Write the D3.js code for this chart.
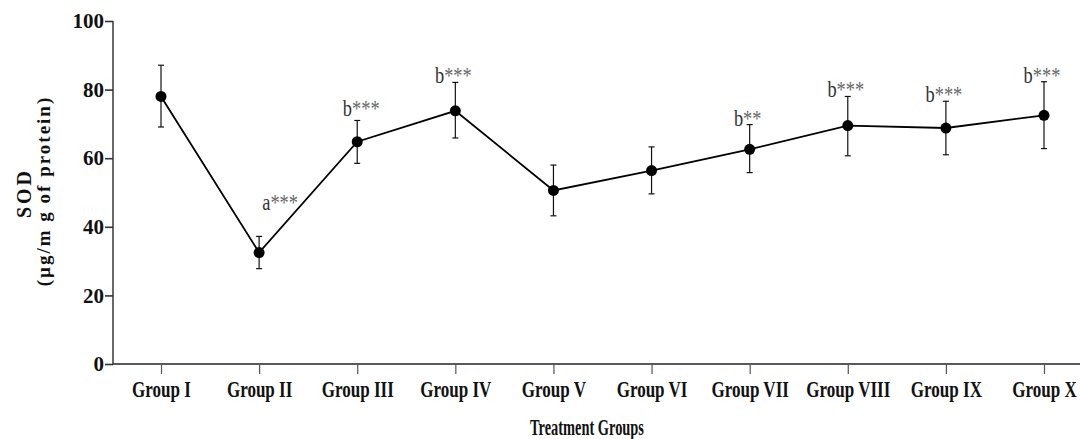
<!DOCTYPE html>
<html>
<head>
<meta charset="utf-8">
<script src="https://cdn.jsdelivr.net/npm/d3@7/dist/d3.min.js"></script>
<style>
  body { margin: 0; background: #fff; }
  svg { display: block; }
  text { font-family: "Liberation Serif", "Times New Roman", serif; fill: #111; }
</style>
</head>
<body>
<svg></svg>
<script>
// Chart data
const groups = ["Group I", "Group II", "Group III", "Group IV", "Group V",
                "Group VI", "Group VII", "Group VIII", "Group IX", "Group X"];
const means = [78.0, 32.5, 64.8, 73.8, 50.6, 56.4, 62.6, 69.5, 68.8, 72.5];
const errHigh = [87.1, 37.2, 71.0, 82.1, 58.0, 63.3, 69.8, 78.0, 76.6, 82.3];
const errLow = [69.1, 27.8, 58.5, 65.9, 43.2, 49.6, 55.8, 60.7, 61.0, 62.8];
const letters = ["", "a", "b", "b", "", "", "b", "b", "b", "b"];
const stars = ["", "***", "***", "***", "", "", "**", "***", "***", "***"];
const yTicks = [0, 20, 40, 60, 80, 100];

const width = 1080, height = 439;
const svg = d3.select("svg").attr("width", width).attr("height", height);

const plotLeft = 113, plotRight = 1080, plotTop = 21, plotBottom = 364;

// x positions of groups
const x = d3.scalePoint().domain(groups).range([161, 1044]);
const y = d3.scaleLinear().domain([0, 100]).range([plotBottom, plotTop]);

// y axis
const yAxis = svg.append("g")
    .attr("transform", `translate(${plotLeft},0)`)
    .call(d3.axisLeft(y).tickValues(yTicks).tickSize(8).tickPadding(1));
yAxis.select(".domain").attr("stroke", "#444").attr("stroke-width", 1.6)
    .attr("d", `M0,${plotTop}V${plotBottom}`);
yAxis.selectAll(".tick line").attr("stroke", "#333").attr("stroke-width", 1.6);
yAxis.selectAll(".tick text")
    .style("font-family", "Liberation Serif, serif")
    .style("font-size", "21px").style("font-weight", "bold")
    .attr("fill", "#111");

// x axis
const xAxis = svg.append("g")
    .attr("transform", `translate(0,${plotBottom})`)
    .call(d3.axisBottom(x).tickSize(10).tickPadding(6));
xAxis.select(".domain").attr("stroke", "#222").attr("stroke-width", 1.6)
    .attr("d", `M${plotLeft},0H${plotRight}`);
xAxis.selectAll(".tick line").attr("stroke", "#555").attr("stroke-width", 1.2);
xAxis.selectAll(".tick text")
    .style("font-family", "Liberation Serif, serif")
    .style("font-size", "24px").style("font-weight", "bold")
    .attr("fill", "#111")
    .attr("y", 0)
    .attr("dy", 0)
    .attr("transform", "translate(0,33) scale(0.71,1)");

// axis titles
svg.append("text")
    .attr("transform", "translate(587,435) scale(0.6,1)")
    .attr("text-anchor", "middle")
    .style("font-size", "24px").style("font-weight", "bold")
    .text("Treatment Groups");

svg.append("text")
    .attr("transform", "translate(31,193) rotate(-90)")
    .attr("text-anchor", "middle")
    .style("font-size", "20px").style("font-weight", "bold")
    .style("letter-spacing", "3px")
    .text("SOD");
svg.append("text")
    .attr("transform", "translate(50,191) rotate(-90)")
    .attr("text-anchor", "middle")
    .style("font-size", "19px").style("font-weight", "bold")
    .style("letter-spacing", "2px")
    .text("(\u00b5g/m g of protein)");

// line
const line = d3.line()
    .x((d, i) => x(groups[i]))
    .y(d => y(d));
svg.append("path")
    .datum(means)
    .attr("fill", "none")
    .attr("stroke", "#000")
    .attr("stroke-width", 1.8)
    .attr("d", line);

// error bars
const err = svg.append("g").attr("stroke", "#111").attr("stroke-width", 1.2);
groups.forEach((g, i) => {
    const cx = x(g);
    err.append("line").attr("x1", cx).attr("x2", cx)
        .attr("y1", y(errHigh[i])).attr("y2", y(errLow[i]));
    err.append("line").attr("x1", cx - 3).attr("x2", cx + 3)
        .attr("y1", y(errHigh[i])).attr("y2", y(errHigh[i]));
    err.append("line").attr("x1", cx - 3).attr("x2", cx + 3)
        .attr("y1", y(errLow[i])).attr("y2", y(errLow[i]));
});

// points
svg.append("g").selectAll("circle")
    .data(means)
    .join("circle")
    .attr("cx", (d, i) => x(groups[i]))
    .attr("cy", d => y(d))
    .attr("r", 5.5)
    .attr("fill", "#000");

// significance labels
const lab = svg.append("g").selectAll("text")
    .data(letters)
    .join("text")
    .attr("transform", (d, i) => {
        let tx = x(groups[i]) - 2, ty = y(errHigh[i]) + 1;
        if (i === 1) { tx = x(groups[i]) + 21; ty = y(errHigh[i]) - 26; }
        if (i === 2) { tx += 6; ty -= 5; }
        return `translate(${tx},${ty}) scale(0.8,1)`;
    })
    .attr("text-anchor", "middle")
    .style("font-size", "23px");
lab.append("tspan").attr("fill", "#333").text(d => d);
lab.append("tspan").attr("fill", "#666").text((d, i) => stars[i]);
</script>
</body>
</html>
